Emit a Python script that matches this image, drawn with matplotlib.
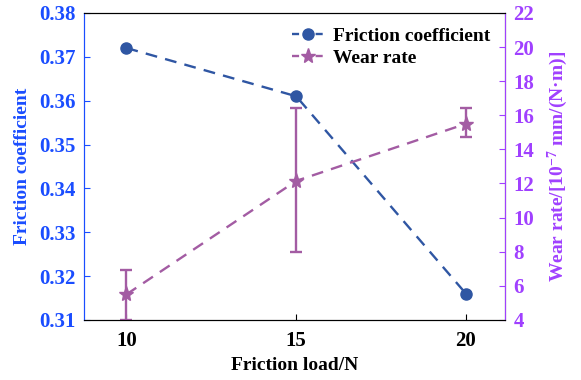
import matplotlib
matplotlib.use("Agg")
import matplotlib.pyplot as plt
from matplotlib.lines import Line2D

loads = [10, 15, 20]
friction = [0.372, 0.361, 0.316]
wear = [5.5, 12.15, 15.5]
wear_low = [4.0, 8.0, 14.7]
wear_high = [6.9, 16.4, 16.45]

BLUE_LINE = "#2F56A3"
PURPLE_LINE = "#A35CA3"
BLUE_AX = "#1A4DFF"
PURPLE_AX = "#A040FF"

plt.rcParams["font.family"] = ["Liberation Serif", "DejaVu Serif"]
plt.rcParams["font.weight"] = "bold"
plt.rcParams["mathtext.default"] = "regular"

fig = plt.figure(figsize=(5.81, 3.8), dpi=100)
ax = fig.add_axes([0.1446, 0.158, 0.7245, 0.808])
ax2 = ax.twinx()

ax.plot(loads, friction, "--o", color=BLUE_LINE, lw=1.7, ms=8, dashes=(5, 3.5), zorder=3)
err = [[w - lo for w, lo in zip(wear, wear_low)], [hi - w for w, hi in zip(wear, wear_high)]]
ax2.errorbar(loads, wear, yerr=err, fmt="--*", color=PURPLE_LINE, lw=1.7, ms=11,
             dashes=(5, 3.5), capsize=4, elinewidth=1.7, capthick=1.7)

ax.set_xlim(8.75, 21.15)
ax.set_ylim(0.31, 0.38)
ax2.set_ylim(4, 22)
ax.set_xticks(loads)
ax.set_yticks([0.31, 0.32, 0.33, 0.34, 0.35, 0.36, 0.37, 0.38])
ax2.set_yticks(range(4, 23, 2))

ax.tick_params(axis="x", direction="in", labelsize=15, pad=8, length=4)
ax.tick_params(axis="y", direction="in", labelsize=15, colors=BLUE_AX, length=4, pad=6)
ax2.tick_params(axis="y", direction="in", labelsize=15, colors=PURPLE_AX, length=4, pad=6)

ax2.spines["left"].set_color(BLUE_AX)
ax2.spines["right"].set_color(PURPLE_AX)
ax.spines["left"].set_color(BLUE_AX)

ax.set_xlabel("Friction load/N", fontsize=14, fontweight="bold", labelpad=4)
ax.set_ylabel("Friction coefficient", fontsize=14, fontweight="bold", color=BLUE_AX,
              labelpad=6)
ax2.set_ylabel("Wear rate/[10$^{-7}$ mm/(N\u00b7m)]", fontsize=14, fontweight="bold",
               color=PURPLE_AX, labelpad=8)

handles = [
    Line2D([], [], ls="--", marker="o", color=BLUE_LINE, lw=1.7, ms=8, dashes=(3, 2)),
    Line2D([], [], ls="--", marker="*", color=PURPLE_LINE, lw=1.7, ms=11, dashes=(3, 2)),
]
ax.legend(handles, ["Friction coefficient", "Wear rate"], loc="upper right",
          frameon=False, fontsize=14, handlelength=1.6, borderaxespad=0.35,
          labelspacing=0.2, handletextpad=0.5)

fig.savefig("out.png", dpi=100)
